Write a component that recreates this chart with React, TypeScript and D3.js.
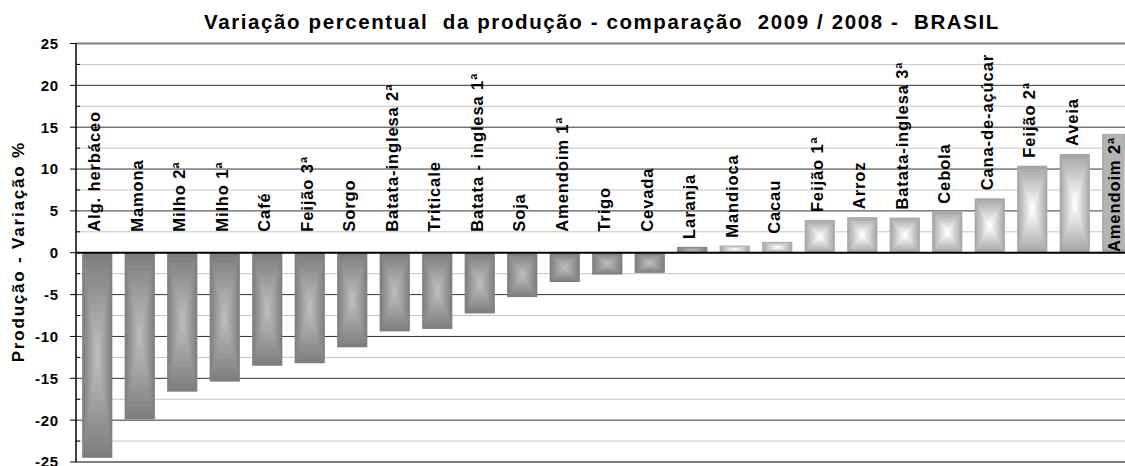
import React from "react";
import * as d3 from "d3";

const categories = [
  "Alg. herbáceo", "Mamona", "Milho 2ª", "Milho 1ª", "Café", "Feijão 3ª", "Sorgo",
  "Batata-inglesa 2ª", "Triticale", "Batata - inglesa 1ª", "Soja", "Amendoim 1ª", "Trigo",
  "Cevada", "Laranja", "Mandioca", "Cacau", "Feijão 1ª", "Arroz", "Batata-inglesa 3ª",
  "Cebola", "Cana-de-açúcar", "Feijão 2ª", "Aveia", "Amendoim 2ª",
];
const values = [
  -24.5, -19.9, -16.6, -15.4, -13.5, -13.2, -11.3, -9.4, -9.1, -7.25, -5.3, -3.5, -2.6,
  -2.4, 0.7, 0.85, 1.3, 3.9, 4.25, 4.2, 4.9, 6.5, 10.4, 11.8, 14.2,
];
const yTicks = [25, 20, 15, 10, 5, 0, -5, -10, -15, -20, -25];
const title = "Variação percentual  da produção - comparação  2009 / 2008 -  BRASIL";
const yTitle = "Produção - Variação %";

const W = 1125, H = 466;
const FONT = "'Liberation Sans', Arial, sans-serif";
const LABEL_SIZE = 16.5;
const LABEL_LS = 0.9;
const DARK_COUNT = 15;

function measure(text: string, size: number, ls: number) {
  const c = document.createElement("canvas").getContext("2d")!;
  c.font = `bold ${size}px ${FONT}`;
  return c.measureText(text).width + ls * (text.length - 1);
}

function Bar({ x, y, w, h, dark }: { x: number; y: number; w: number; h: number; dark: boolean }) {
  const N = 14;
  const edge = dark ? "#7e7e7e" : "#a6a6a6";
  const center = dark ? "#bdbdbd" : "#ffffff";
  const col = d3.interpolateRgb(edge, center);
  const cx = x + w / 2, cy = y + h / 2;
  const rects = [];
  for (let k = 0; k < N; k++) {
    const s = (N - k) / N;
    rects.push(
      <rect key={k} x={cx - (s * w) / 2} y={cy - (s * h) / 2} width={s * w} height={s * h}
        fill={col(k / (N - 1))} />
    );
  }
  return <g>{rects}</g>;
}

export default function App() {
  const left = 76;
  const step = 42.5;
  const x = d3.scaleBand<string>().domain(categories)
    .range([left, left + categories.length * step]).paddingInner(0.29).paddingOuter(0.145);
  const y = d3.scaleLinear().domain([-25, 25]).range([462, 43.5]);
  const minor = d3.range(-22.5, 25, 5);
  const plotTop = y(25);

  return (
    <svg width={W} height={H} style={{ position: "absolute", left: 0, top: 0, background: "#fff" }}
      fontFamily={FONT}>
      <text x={602} y={29} textAnchor="middle" fontWeight="bold" fontSize={20.5}
        letterSpacing={1.6} fill="#000" style={{ whiteSpace: "pre" }}>{title}</text>
      {minor.map((t) => (
        <g key={"m" + t}>
          <line x1={left} x2={W} y1={y(t)} y2={y(t)} stroke="#c4c4c4" strokeWidth={1} />
          <line x1={left} x2={left + 4} y1={y(t)} y2={y(t)} stroke="#000" strokeWidth={1} />
        </g>
      ))}
      {yTicks.map((t) => (
        <g key={"M" + t}>
          {t !== 0 && (
            <line x1={left} x2={W} y1={y(t)} y2={y(t)}
              stroke={Math.abs(t) === 25 ? "#808080" : "#333"}
              strokeWidth={Math.abs(t) === 25 ? 2 : 1} />
          )}
          <line x1={left - 6} x2={left} y1={y(t)} y2={y(t)} stroke="#000" strokeWidth={1} />
          <text x={59} y={y(t)} dy="0.36em" textAnchor="end" fontWeight="bold" fontSize={15}
            letterSpacing={0.8} fill="#000">{t}</text>
        </g>
      ))}
      {categories.map((c, i) => {
        const v = values[i];
        const bx = x(c)!;
        const bw = x.bandwidth();
        const y0 = y(0), y1 = y(v);
        return (
          <Bar key={c} x={bx} y={Math.min(y0, y1)} w={bw} h={Math.abs(y1 - y0)} dark={i < DARK_COUNT} />
        );
      })}
      <line x1={left} x2={W} y1={y(0)} y2={y(0)} stroke="#000" strokeWidth={2} />
      <line x1={left} x2={left} y1={plotTop} y2={y(-25)} stroke="#000" strokeWidth={1.5} />
      {categories.map((c, i) => {
        const v = values[i];
        const cx = x(c)! + x.bandwidth() / 2 - 3;
        const len = measure(c, LABEL_SIZE, LABEL_LS);
        let start: number;
        let inside = false;
        if (v < 0) start = y(0) - 21;
        else {
          start = y(v) - 8;
          if (start - len < plotTop) {
            inside = true;
            start = y(v) + 4 + len;
          }
        }
        return (
          <g key={"l" + c}>
            {inside && (
              <rect x={cx - 9} y={y(v)} width={19} height={y(0) - 4 - y(v)} fill="#b3b3b3" />
            )}
            <text transform={`translate(${cx},${start}) rotate(-90)`} dy="0.36em"
              fontWeight="bold" fontSize={LABEL_SIZE} letterSpacing={LABEL_LS} fill="#000">{c}</text>
          </g>
        );
      })}
      <text transform={`translate(18,${y(0) - 1}) rotate(-90)`} textAnchor="middle" dy="0.36em"
        fontWeight="bold" fontSize={17} letterSpacing={1.8} fill="#000">{yTitle}</text>
    </svg>
  );
}
